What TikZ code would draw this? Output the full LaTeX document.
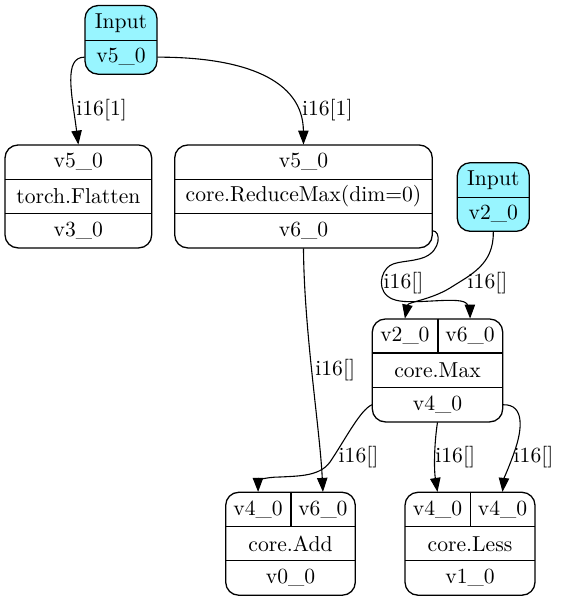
\documentclass[tikz,border=0pt]{standalone}
\usetikzlibrary{arrows.meta}
\definecolor{inputcyan}{HTML}{98F5FF}
\newcommand{\recfont}{\fontsize{10.8}{13}\selectfont}
\begin{document}
\begin{tikzpicture}[x=0.5pt,y=-0.5pt,
  recbox/.style={draw, line width=0.65pt, rounded corners=6.5pt, inner sep=0pt},
  field/.style={inner sep=0pt, minimum height=17.15pt, font=\recfont},
  divider/.style={line width=0.6pt},
  flow/.style={line width=0.55pt, -{Triangle[length=7pt,width=5.2pt]}},
  elabel/.style={anchor=west, inner sep=0pt, font=\recfont}]
\useasboundingbox (0,0) rectangle (563,601);

% ---- Input (v5_0)
\node[recbox, fill=inputcyan, minimum width=36pt, minimum height=34.3pt] (in1) at (121,39.85) {};
\node[field, minimum width=36pt] (in1-t) at (121,22.85) {Input};
\node[field, minimum width=36pt] (in1-b) at (121,57.15) {v5\_0};
\draw[divider] (in1-t.south west) -- (in1-t.south east);

% ---- torch.Flatten
\node[recbox, minimum width=73.35pt, minimum height=51.45pt] (fl) at (78.35,196.45) {};
\node[field, minimum width=73.35pt] (fl-t) at (78.35,162.15) {v5\_0};
\node[field, minimum width=73.35pt] (fl-m) at (78.35,196.45) {torch.Flatten};
\node[field, minimum width=73.35pt] (fl-b) at (78.35,230.75) {v3\_0};
\draw[divider] (fl-t.south west) -- (fl-t.south east);
\draw[divider] (fl-b.north west) -- (fl-b.north east);

% ---- core.ReduceMax
\node[recbox, minimum width=128.8pt, minimum height=51.45pt] (rm) at (303.5,196.45) {};
\node[field, minimum width=128.8pt] (rm-t) at (303.5,162.15) {v5\_0};
\node[field, minimum width=128.8pt] (rm-m) at (303.5,196.45) {core.ReduceMax(dim=0)};
\node[field, minimum width=128.8pt] (rm-b) at (303.5,230.75) {v6\_0};
\draw[divider] (rm-t.south west) -- (rm-t.south east);
\draw[divider] (rm-b.north west) -- (rm-b.north east);

% ---- Input (v2_0)
\node[recbox, fill=inputcyan, minimum width=36pt, minimum height=34.3pt] (in2) at (493.3,197) {};
\node[field, minimum width=36pt] (in2-t) at (493.3,179.85) {Input};
\node[field, minimum width=36pt] (in2-b) at (493.3,214.15) {v2\_0};
\draw[divider] (in2-t.south west) -- (in2-t.south east);

% ---- core.Max
\node[recbox, minimum width=65.2pt, minimum height=51.45pt] (mx) at (437.5,370.45) {};
\node[field, minimum width=32.6pt] (mx-t1) at (404.9,336.15) {v2\_0};
\node[field, minimum width=32.6pt] (mx-t2) at (470.1,336.15) {v6\_0};
\node[field, minimum width=65.2pt] (mx-m) at (437.5,370.45) {core.Max};
\node[field, minimum width=65.2pt] (mx-b) at (437.5,404.75) {v4\_0};
\draw[divider] (mx-t1.north east) -- (mx-t1.south east);
\draw[divider] (mx-m.north west) -- (mx-m.north east);
\draw[divider] (mx-b.north west) -- (mx-b.north east);

% ---- core.Add
\node[recbox, minimum width=64.8pt, minimum height=51.45pt] (ad) at (290.5,543.75) {};
\node[field, minimum width=32.4pt] (ad-t1) at (258.1,509.45) {v4\_0};
\node[field, minimum width=32.4pt] (ad-t2) at (322.9,509.45) {v6\_0};
\node[field, minimum width=64.8pt] (ad-m) at (290.5,543.75) {core.Add};
\node[field, minimum width=64.8pt] (ad-b) at (290.5,578.05) {v0\_0};
\draw[divider] (ad-t1.north east) -- (ad-t1.south east);
\draw[divider] (ad-m.north west) -- (ad-m.north east);
\draw[divider] (ad-b.north west) -- (ad-b.north east);

% ---- core.Less
\node[recbox, minimum width=65pt, minimum height=51.45pt] (ls) at (470,543.75) {};
\node[field, minimum width=32.5pt] (ls-t1) at (437.5,509.45) {v4\_0};
\node[field, minimum width=32.5pt] (ls-t2) at (502.5,509.45) {v4\_0};
\node[field, minimum width=65pt] (ls-m) at (470,543.75) {core.Less};
\node[field, minimum width=65pt] (ls-b) at (470,578.05) {v1\_0};
\draw[divider] (ls-t1.north east) -- (ls-t1.south east);
\draw[divider] (ls-m.north west) -- (ls-m.north east);
\draw[divider] (ls-b.north west) -- (ls-b.north east);

% ---- connectors
\draw[flow] (in1-b.west) .. controls (63,57) and (72,95) .. (fl-t.north);
\draw[flow] (in1-b.east) .. controls (245,57) and (303,80) .. (rm-t.north);
\draw[flow] (rm-b.east) .. controls (441,231) and (441,250) .. (425,257)
  .. controls (410,263) and (394,260) .. (387,268)
  .. controls (378,278) and (378,298) .. (400,301)
  .. controls (420,304) and (462,296) .. (467,304)
  .. controls (469,308) and (470,312) .. (mx-t2.north);
\draw[flow] (in2-b.south) .. controls (494,265) and (470,275) .. (450,288)
  .. controls (430,300) and (408,302) .. (mx-t1.north);
\draw[flow] (rm-b.south) .. controls (304,330) and (320,430) .. (ad-t2.north);
\draw[flow] (mx-b.west) .. controls (360,410) and (345,440) .. (330,462)
  .. controls (320,476) and (300,476) .. (280,477)
  .. controls (265,477) and (258,481) .. (ad-t1.north);
\draw[flow] (mx-b.south) .. controls (434,445) and (434,470) .. (ls-t1.north);
\draw[flow] (mx-b.east) .. controls (525,404) and (522,430) .. (515,450)
  .. controls (510,465) and (504,478) .. (ls-t2.north);

% ---- connector labels
\node[elabel] (l1) at (76,110) {i16[1]};
\node[elabel] (l2) at (301.7,110) {i16[1]};
\node[elabel] (l3) at (383.3,283.3) {i16[]};
\node[elabel] (l4) at (467.3,283.3) {i16[]};
\node[elabel] (l5) at (315,370) {i16[]};
\node[elabel] (l6) at (338.3,456.7) {i16[]};
\node[elabel] (l7) at (435,456.7) {i16[]};
\node[elabel] (l8) at (513.3,456.7) {i16[]};
\end{tikzpicture}
\end{document}
